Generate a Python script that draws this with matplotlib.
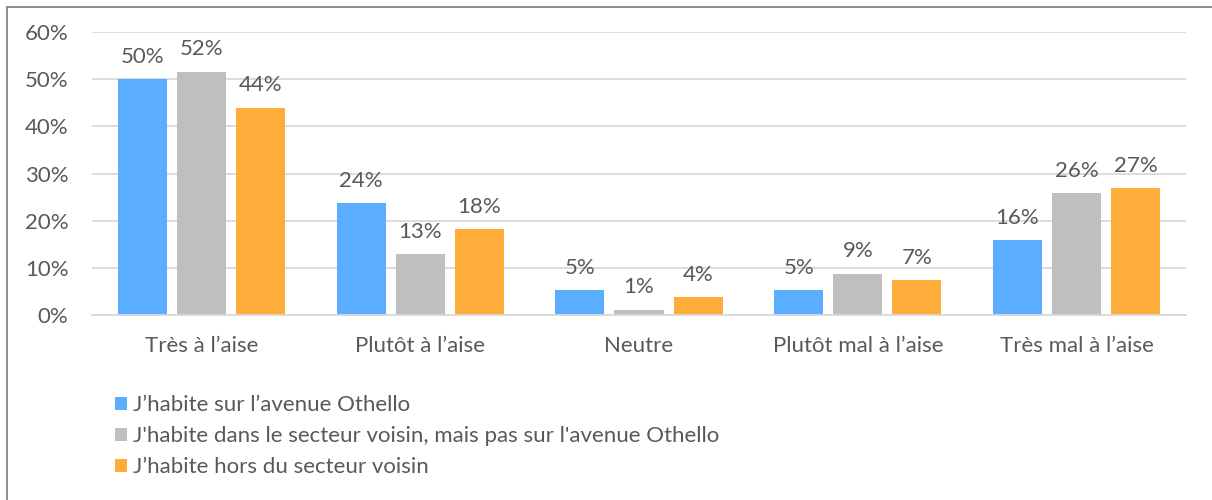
import matplotlib
matplotlib.use("Agg")
import matplotlib.pyplot as plt
from matplotlib.lines import Line2D
from matplotlib.ticker import PercentFormatter
import numpy as np

plt.rcParams["font.family"] = ["Lato", "DejaVu Sans"]

categories = ["Très à l’aise", "Plutôt à l’aise", "Neutre", "Plutôt mal à l’aise", "Très mal à l’aise"]
series_names = [
    "J’habite sur l’avenue Othello",
    "J'habite dans le secteur voisin, mais pas sur l'avenue Othello",
    "J’habite hors du secteur voisin",
]
avenue = [0.500, 0.237, 0.053, 0.053, 0.159]
voisin = [0.516, 0.129, 0.011, 0.087, 0.258]
hors = [0.439, 0.182, 0.038, 0.074, 0.269]
labels_avenue = ["50%", "24%", "5%", "5%", "16%"]
labels_voisin = ["52%", "13%", "1%", "9%", "26%"]
labels_hors = ["44%", "18%", "4%", "7%", "27%"]
colors = ["#5BADFF", "#BFBFBF", "#FFAD3A"]
text_color = "#595959"
fs = 16

fig = plt.figure(figsize=(12.12, 5.0), dpi=100)
ax = fig.add_axes([92 / 1212, 1 - 315 / 500, 1094 / 1212, (315 - 32) / 500])

x = np.arange(len(categories))
width = 0.224
step = 0.27
all_values = [avenue, voisin, hors]
all_labels = [labels_avenue, labels_voisin, labels_hors]
handles = []
for i, (vals, labs, color, name) in enumerate(zip(all_values, all_labels, colors, series_names)):
    bars = ax.bar(x + (i - 1) * step, vals, width, color=color, label=name, zorder=2)
    handles.append(bars)
    for rect, lab in zip(bars, labs):
        ax.annotate(lab, (rect.get_x() + rect.get_width() / 2, rect.get_height()),
                    xytext=(0, 9), textcoords="offset points", ha="center", va="bottom",
                    fontsize=fs, color=text_color)

ax.set_xlim(-0.5, len(categories) - 0.5)
ax.set_ylim(0, 0.6)
ax.set_yticks(np.arange(0, 0.61, 0.1))
ax.yaxis.set_major_formatter(PercentFormatter(1.0, decimals=0))
ax.set_xticks(x)
ax.set_xticklabels(categories)
ax.tick_params(axis="both", length=0, labelsize=fs, labelcolor=text_color)
ax.tick_params(axis="x", pad=15)
ax.tick_params(axis="y", pad=17)
ax.grid(axis="y", color="#D9D9D9", linewidth=1.3, zorder=0)
for side in ["top", "right", "left"]:
    ax.spines[side].set_visible(False)
ax.spines["bottom"].set_color("#D9D9D9")
ax.spines["bottom"].set_linewidth(1.3)

leg = fig.legend(handles=handles, loc="upper left", bbox_to_anchor=(104 / 1212, 1 - 384 / 500),
                 frameon=False, fontsize=fs, handlelength=0.55, handleheight=0.55,
                 handletextpad=0.25, labelspacing=0.5, borderpad=0)
for t in leg.get_texts():
    t.set_color(text_color)

# outer frame: only top and left edges are visible in the original
fig.add_artist(Line2D([6.5 / 1212, 1], [1 - 6.5 / 500, 1 - 6.5 / 500], transform=fig.transFigure,
                      color="#8C8C8C", linewidth=1.4))
fig.add_artist(Line2D([6.5 / 1212, 6.5 / 1212], [0, 1 - 6.5 / 500], transform=fig.transFigure,
                      color="#8C8C8C", linewidth=1.4))

fig.savefig("out.png", dpi=100)
